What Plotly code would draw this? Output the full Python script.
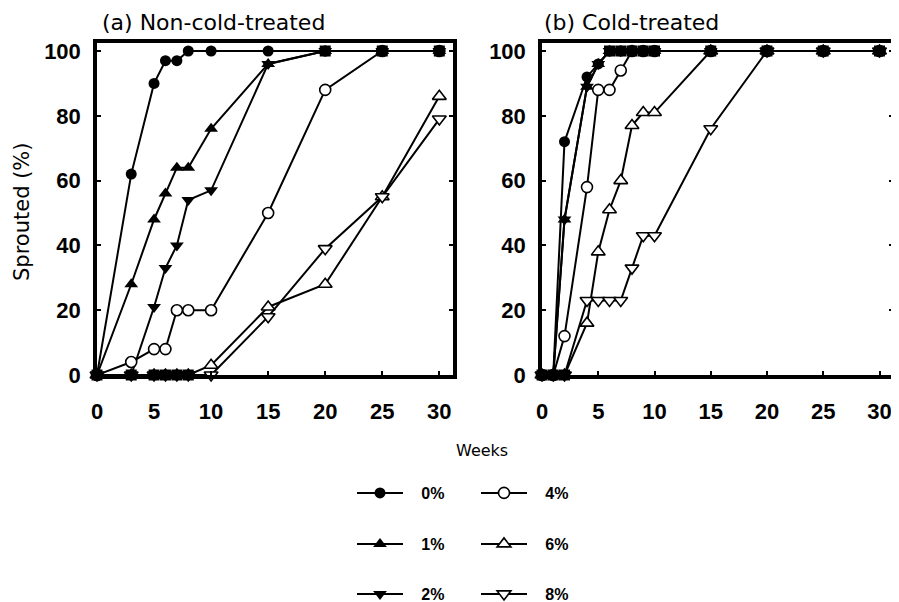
import plotly.graph_objects as go

# ---------------- data ----------------
series_names = ["0%", "1%", "2%", "4%", "6%", "8%"]

weeks_a = [0, 3, 5, 6, 7, 8, 10, 15, 20, 25, 30]
a_0 = [0, 62, 90, 97, 97, 100, 100, 100, 100, 100, 100]
a_1 = [0, 28, 48, 56, 64, 64, 76, 96, 100, 100, 100]
a_2 = [0, 0, 21, 33, 40, 54, 57, 96, 100, 100, 100]
a_4 = [0, 4, 8, 8, 20, 20, 20, 50, 88, 100, 100]
a_6 = [0, 0, 0, 0, 0, 0, 3, 21, 28, 55, 86]
a_8 = [0, 0, 0, 0, 0, 0, 0, 18, 39, 55, 79]

weeks_b = [0, 1, 2, 4, 5, 6, 7, 8, 9, 10, 15, 20, 25, 30]
b_0 = [0, 0, 72, 92, 96, 100, 100, 100, 100, 100, 100, 100, 100, 100]
b_1 = [0, 0, 48, 89, 96, 100, 100, 100, 100, 100, 100, 100, 100, 100]
b_2 = [0, 0, 48, 89, 96, 100, 100, 100, 100, 100, 100, 100, 100, 100]
b_4 = [0, 0, 12, 58, 88, 88, 94, 100, 100, 100, 100, 100, 100, 100]
b_6 = [0, 0, 0, 16, 38, 51, 60, 77, 81, 81, 100, 100, 100, 100]
b_8 = [0, 0, 0, 23, 23, 23, 23, 33, 43, 43, 76, 100, 100, 100]

x_ticks = [0, 5, 10, 15, 20, 25, 30]
y_ticks = [0, 20, 40, 60, 80, 100]

titles = ["(a) Non-cold-treated", "(b) Cold-treated"]
x_title = "Weeks"
y_title = "Sprouted (%)"

# ---------------- styling ----------------
W, H = 899, 602
OFF = 8  # page body margin


def px(xp):
    return (xp - OFF) / W


def py(yp):
    return 1 - (yp - OFF) / H


symbols = ["circle", "triangle-up", "triangle-down", "circle", "triangle-up", "triangle-down"]
sizes = [11, 12, 12, 11, 12, 12]
filled = [True, True, True, False, False, False]
legend_of = ["legend", "legend2", "legend3", "legend", "legend2", "legend3"]
NB = "\u00a0\u00a0\u00a0"  # gap between legend symbol and label

fig = go.Figure()


def add_panel(weeks, series, xa, ya, show_legend):
    for i, (name, vals) in enumerate(zip(series_names, series)):
        fig.add_trace(go.Scatter(
            x=weeks, y=vals, name=NB + name, mode="lines+markers",
            xaxis=xa, yaxis=ya, cliponaxis=False,
            line=dict(color="black", width=2),
            marker=dict(symbol=symbols[i], size=sizes[i],
                        color="black" if filled[i] else "white",
                        line=dict(color="black", width=0 if filled[i] else 1.6)),
            showlegend=show_legend, legend=legend_of[i],
        ))
    # points where several series coincide at 0 % or 100 % are drawn as filled squares
    ox, oy = [], []
    for j, w in enumerate(weeks):
        vals = [s[j] for s in series]
        for v in (0, 100):
            if vals.count(v) >= 2:
                ox.append(w)
                oy.append(v)
    fig.add_trace(go.Scatter(
        x=ox, y=oy, mode="markers", xaxis=xa, yaxis=ya, cliponaxis=False,
        marker=dict(symbol="square", size=11, color="black"),
        showlegend=False, hoverinfo="skip"))


add_panel(weeks_a, [a_0, a_1, a_2, a_4, a_6, a_8], "x", "y", True)
add_panel(weeks_b, [b_0, b_1, b_2, b_4, b_6, b_8], "x2", "y2", False)

tick_font = dict(family="Liberation Sans", size=22, color="black", weight="bold")

y0_px, y100_px, ytop_px = 375, 51, 43
yr_top = 100 * (y0_px - ytop_px) / (y0_px - y100_px)
ydom = [py(y0_px), py(ytop_px)]

common_x = dict(range=[0, 31.2], tickvals=x_ticks, ticks="inside", ticklen=4, tickwidth=2,
                tickcolor="black", showline=True, linewidth=3.5, linecolor="black",
                mirror=True, showgrid=False, zeroline=False, tickfont=tick_font,
                ticklabelstandoff=14, automargin=False)
common_y = dict(range=[0, yr_top], tickvals=y_ticks, ticks="inside", ticklen=4, tickwidth=2,
                tickcolor="black", showline=True, linewidth=3.5, linecolor="black",
                mirror="ticks", showgrid=False, zeroline=False, tickfont=tick_font,
                ticklabelstandoff=8, domain=ydom, automargin=False)

fig.update_layout(
    width=W, height=H, margin=dict(l=0, r=0, t=0, b=0, autoexpand=False),
    paper_bgcolor="white", plot_bgcolor="white",
    xaxis=dict(domain=[px(97), px(453)], anchor="y", **common_x),
    yaxis=dict(anchor="x", **common_y),
    xaxis2=dict(domain=[px(542), px(893)], anchor="y2", **common_x),
    yaxis2=dict(anchor="x2", **common_y),
)

leg_common = dict(orientation="h", entrywidth=63, entrywidthmode="pixels", itemwidth=46,
                  font=dict(family="Liberation Sans", size=16, color="black", weight="bold"),
                  bgcolor="rgba(0,0,0,0)", xanchor="left", yanchor="middle", x=px(352),
                  traceorder="normal")
fig.update_layout(
    legend=dict(y=py(493), **leg_common),
    legend2=dict(y=py(544), **leg_common),
    legend3=dict(y=py(594), **leg_common),
)

annotations = [
    dict(text=titles[0], x=px(100), y=1, xanchor="left", yanchor="top",
         font=dict(family="DejaVu Sans", size=22, color="black")),
    dict(text=titles[1], x=px(542), y=1, xanchor="left", yanchor="top",
         font=dict(family="DejaVu Sans", size=22, color="black")),
    dict(text=x_title, x=px(482), y=py(450), xanchor="center", yanchor="middle",
         font=dict(family="DejaVu Sans", size=16, color="black")),
    dict(text=y_title, x=px(22), y=py(212), xanchor="center", yanchor="middle", textangle=-90,
         font=dict(family="DejaVu Sans", size=21, color="black")),
]
for a in annotations:
    fig.add_annotation(xref="paper", yref="paper", showarrow=False, **a)

fig.write_html("out.html")
